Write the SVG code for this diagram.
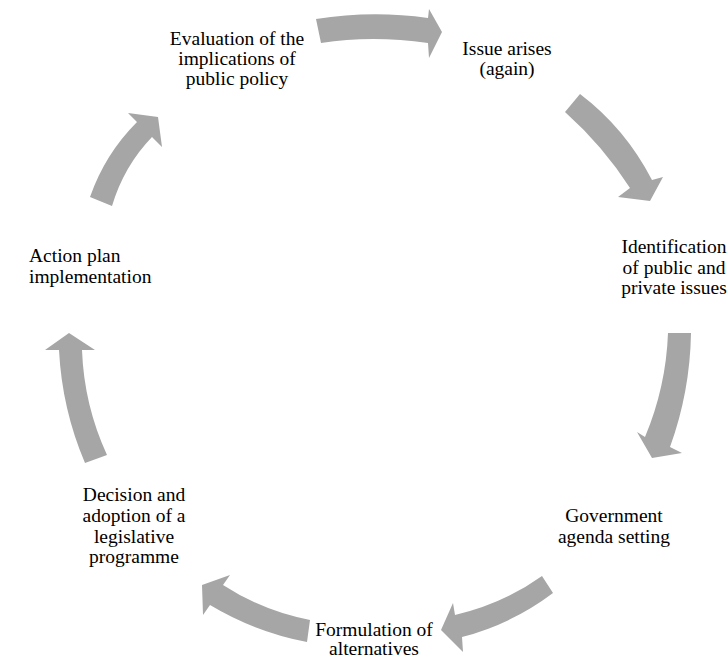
<svg xmlns="http://www.w3.org/2000/svg" width="728" height="659" viewBox="0 0 728 659">
<style>
.arrow{fill:#a6a6a6;stroke:none}
text{font-family:"Liberation Serif","Times New Roman",serif;font-size:19.5px;fill:#000}
.c{text-anchor:middle}
</style>
<rect width="728" height="659" fill="#fff"/>
<g id="connectors">
<path class="arrow" d="M316,19 Q372,10 428,18 L429,9 L442,32 L429,58 L428,43 Q372,35 321,43 Z"/>
<path class="arrow" d="M580,94 Q625,128 652,180 L663,177 L650,201 L618,197 L630,188 Q603,146 565,112 Z"/>
<path class="arrow" d="M691,333 Q690,392 670,447 L682,453 L652,458 L637,432 L645,437 Q666,387 668,333 Z"/>
<path class="arrow" d="M553,593 Q512,624 462,637 L463,652 L441,630 L453,603 L455,615 Q503,604 542,576 Z"/>
<path class="arrow" d="M307,642 Q255,632 210,605 L203,615 L202,585 L230,575 L223,585 Q263,611 310,620 Z"/>
<path class="arrow" d="M85,463 Q62,409 59,350 L45,350 L69,333 L95,350 L82,350 Q84,405 107,455 Z"/>
<path class="arrow" d="M90,197 Q105,154 137,122 L128,113 L158,117 L162,147 L152,137 Q124,166 112,206 Z"/>
</g>
<g id="n1"><text class="c" x="237" y="45">Evaluation of the</text><text class="c" x="237" y="65">implications of</text><text class="c" x="237" y="85">public policy</text></g>
<g id="n2"><text class="c" x="507" y="55">Issue arises</text><text class="c" x="507" y="75">(again)</text></g>
<g id="n3"><text class="c" x="674" y="253">Identification</text><text class="c" x="674" y="274">of public and</text><text class="c" x="674" y="294">private issues</text></g>
<g id="n4"><text class="c" x="614" y="522">Government</text><text class="c" x="614" y="543">agenda setting</text></g>
<g id="n5"><text class="c" x="374" y="636">Formulation of</text><text class="c" x="374" y="655">alternatives</text></g>
<g id="n6"><text class="c" x="134" y="501">Decision and</text><text class="c" x="134" y="522">adoption of a</text><text class="c" x="134" y="543">legislative</text><text class="c" x="134" y="563">programme</text></g>
<g id="n7"><text x="29" y="262">Action plan</text><text x="29" y="283">implementation</text></g>
</svg>
